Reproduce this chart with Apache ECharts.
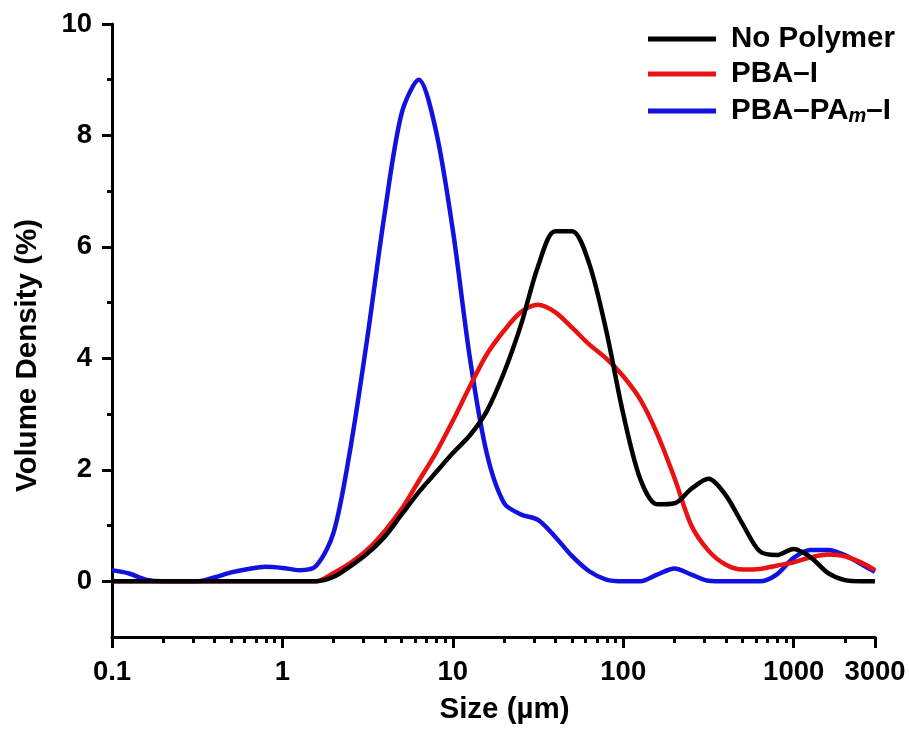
<!DOCTYPE html>
<html>
<head>
<meta charset="utf-8">
<script src="https://cdn.jsdelivr.net/npm/echarts@6/dist/echarts.min.js"></script>
<style>
html,body{margin:0;padding:0;background:#fff;}
#chart{width:909px;height:730px;}
</style>
</head>
<body>
<div id="chart"></div>
<script>
// Particle size classes (µm)
const sizes = [0.1, 0.126, 0.158, 0.2, 0.251, 0.316, 0.398, 0.501, 0.631, 0.794,
  1, 1.26, 1.58, 2.0, 2.51, 3.16, 3.98, 5.01, 6.31, 7.94,
  10, 12.6, 15.8, 20, 25.1, 31.6, 39.8, 50.1, 63.1, 79.4,
  100, 126, 158, 200, 251, 316, 398, 501, 631, 794,
  1000, 1259, 1585, 1995, 2512, 3000];

const noPolymer = [0, 0, 0, 0, 0, 0, 0, 0, 0, 0,
  0, 0, 0, 0.08, 0.27, 0.5, 0.8, 1.2, 1.6, 1.95,
  2.3, 2.62, 3.05, 3.75, 4.6, 5.65, 6.28, 6.28, 5.7, 4.5,
  3.0, 1.83, 1.38, 1.4, 1.66, 1.84, 1.55, 1.03, 0.54, 0.47,
  0.58, 0.43, 0.15, 0.02, 0, 0];

const pbaI = [0, 0, 0, 0, 0, 0, 0, 0, 0, 0,
  0, 0, 0, 0.15, 0.33, 0.57, 0.9, 1.3, 1.8, 2.3,
  2.88, 3.5, 4.07, 4.5, 4.83, 4.96, 4.83, 4.55, 4.25, 4.0,
  3.68, 3.26, 2.65, 1.85, 1.0, 0.55, 0.3, 0.21, 0.22, 0.28,
  0.34, 0.43, 0.48, 0.45, 0.33, 0.2];

const pbaPAmI = [0.2, 0.14, 0.03, 0, 0, 0, 0.07, 0.16, 0.22, 0.26,
  0.24, 0.2, 0.28, 0.88, 2.4, 4.4, 6.6, 8.4, 9.0, 8.1,
  6.3, 4.0, 2.3, 1.4, 1.2, 1.1, 0.8, 0.45, 0.18, 0.03,
  0, 0, 0.12, 0.23, 0.12, 0.01, 0, 0, 0, 0.12,
  0.42, 0.56, 0.56, 0.47, 0.3, 0.17];

const seriesNames = ['No Polymer', 'PBA–I', 'PBA–PAm–I'];
const seriesColors = ['#000000', '#e81212', '#1212e0'];

const xMajorTicks = [0.1, 1, 10, 100, 1000, 3000];
const xMinorTicks = [0.2, 0.3, 0.4, 0.5, 0.6, 0.7, 0.8, 0.9,
  2, 3, 4, 5, 6, 7, 8, 9, 20, 30, 40, 50, 60, 70, 80, 90,
  200, 300, 400, 500, 600, 700, 800, 900, 2000];
const yMajorTicks = [0, 2, 4, 6, 8, 10];
const yMinorTicks = [1, 3, 5, 7, 9];

const FONT = "'Liberation Sans', Arial, Helvetica, sans-serif";

const chart = echarts.init(document.getElementById('chart'), null, {renderer: 'canvas'});

function pairs(vals) { return sizes.map((s, i) => [s, vals[i]]); }

const allVals = [noPolymer, pbaI, pbaPAmI];

const axisLineStyle = {color: '#000', width: 3};

chart.setOption({
  animation: false,
  backgroundColor: '#fff',
  grid: {left: 112, right: 34, top: 24, bottom: 92, containLabel: false},
  legend: {
    orient: 'vertical',
    left: 643,
    top: 19,
    itemWidth: 68,
    itemHeight: 5,
    itemGap: 5,
    icon: 'rect',
    data: seriesNames,
    textStyle: {
      fontFamily: FONT, fontWeight: 'bold', fontSize: 29.5, color: '#000',
      lineHeight: 30, padding: [0, 0, 0, 10],
      rich: {
        sub: {fontFamily: FONT, fontWeight: 'bold', fontStyle: 'italic', fontSize: 20,
              color: '#000', verticalAlign: 'bottom', lineHeight: 30, padding: [12, 0, 0, 0]}
      }
    },
    formatter: function (name) {
      return name === 'PBA–PAm–I' ? 'PBA–PA{sub|m}–I' : name;
    }
  },
  xAxis: [{
    type: 'log', logBase: 10, min: 0.1, max: 3000, position: 'bottom',
    name: 'Size (µm)', nameLocation: 'middle', nameGap: 58,
    nameTextStyle: {fontFamily: FONT, fontWeight: 'bold', fontSize: 29.5, color: '#000', padding: [0, 0, 0, 22]},
    axisLine: {show: true, onZero: false, lineStyle: axisLineStyle},
    axisTick: {show: true, length: 11, customValues: xMajorTicks, lineStyle: axisLineStyle},
    axisLabel: {show: true, customValues: xMajorTicks, margin: 21, fontFamily: FONT, fontWeight: 'bold',
      fontSize: 27.5, color: '#000', formatter: v => String(v)},
    splitLine: {show: false}, minorTick: {show: false}, minorSplitLine: {show: false}
  }, {
    type: 'log', logBase: 10, min: 0.1, max: 3000, position: 'bottom',
    axisLine: {show: false, onZero: false},
    axisTick: {show: true, length: 6, customValues: xMinorTicks, lineStyle: axisLineStyle},
    axisLabel: {show: false},
    splitLine: {show: false}
  }],
  yAxis: [{
    type: 'value', min: -1, max: 10, interval: 1, position: 'left',
    name: 'Volume Density (%)', nameLocation: 'middle', nameGap: 69,
    nameTextStyle: {fontFamily: FONT, fontWeight: 'bold', fontSize: 29.5, color: '#000', padding: [0, 50, 0, 0]},
    axisLine: {show: true, onZero: false, lineStyle: axisLineStyle},
    axisTick: {show: true, length: 10, customValues: yMajorTicks, lineStyle: axisLineStyle},
    axisLabel: {show: true, customValues: yMajorTicks, margin: 20, fontFamily: FONT, fontWeight: 'bold',
      fontSize: 27.5, color: '#000'},
    splitLine: {show: false}
  }, {
    type: 'value', min: -1, max: 10, interval: 1, position: 'left',
    axisLine: {show: false, onZero: false},
    axisTick: {show: true, length: 5, customValues: yMinorTicks, lineStyle: axisLineStyle},
    axisLabel: {show: false},
    splitLine: {show: false}
  }],
  series: seriesNames.map((n, k) => ({
    name: n,
    type: 'line',
    xAxisIndex: 0,
    yAxisIndex: 0,
    data: pairs(allVals[k]),
    showSymbol: false,
    symbol: 'none',
    smooth: 0.3,
    color: seriesColors[k],
    lineStyle: {color: seriesColors[k], width: 4.5, join: 'round'},
    z: 3 - k
  }))
});
</script>
</body>
</html>
